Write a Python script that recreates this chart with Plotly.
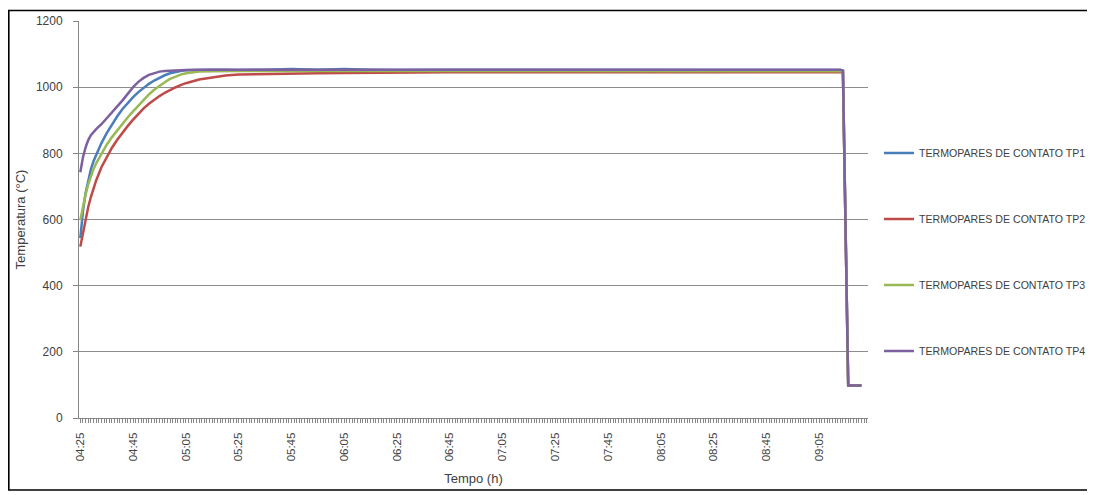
import plotly.graph_objects as go

DAY = "2000-01-01 "

times = ["04:25", "04:26", "04:27", "04:28", "04:29", "04:30", "04:31", "04:33", "04:35", "04:37",
         "04:39", "04:41", "04:43", "04:45", "04:47", "04:49", "04:51", "04:53", "04:55", "04:57",
         "04:59", "05:01", "05:03", "05:05", "05:10", "05:15", "05:20", "05:25", "05:35", "05:45",
         "05:55", "06:05", "06:15", "06:25", "06:45", "07:05", "07:25", "07:45", "08:05", "08:25",
         "08:45", "09:05", "09:13", "09:14", "09:16", "09:21"]

tp1 = [544, 625, 680, 720, 752, 776, 796, 831, 861, 888,
       912, 934, 953, 970, 985, 998, 1010, 1020, 1029, 1036,
       1042, 1046, 1049, 1051, 1053, 1053, 1053, 1052, 1053, 1055,
       1053, 1055, 1053, 1052, 1053, 1053, 1052, 1053, 1053, 1053,
       1053, 1053, 1052, 1050, 98, 98]

tp2 = [518, 562, 603, 638, 668, 695, 718, 758, 790, 817,
       841, 863, 883, 902, 920, 936, 950, 962, 973, 983,
       992, 999, 1006, 1012, 1023, 1030, 1035, 1038, 1040, 1041,
       1042, 1043, 1044, 1044, 1045, 1045, 1045, 1046, 1046, 1046,
       1046, 1046, 1046, 1045, 98, 98]

tp3 = [598, 640, 676, 706, 731, 752, 770, 800, 826, 849,
       870, 890, 909, 927, 944, 962, 978, 992, 1004, 1015,
       1025, 1032, 1038, 1042, 1047, 1048, 1049, 1049, 1049, 1049,
       1049, 1049, 1049, 1049, 1049, 1049, 1049, 1049, 1049, 1049,
       1049, 1049, 1049, 1048, 98, 98]

tp4 = [743, 788, 818, 840, 855, 865, 873, 888, 905, 923,
       942, 960, 980, 1000, 1016, 1028, 1037, 1043, 1047, 1049,
       1050, 1051, 1052, 1052, 1053, 1053, 1053, 1052, 1053, 1054,
       1052, 1053, 1053, 1052, 1053, 1053, 1053, 1053, 1053, 1053,
       1053, 1053, 1053, 1050, 98, 98]

series_names = ["TERMOPARES DE CONTATO TP1", "TERMOPARES DE CONTATO TP2",
                "TERMOPARES DE CONTATO TP3", "TERMOPARES DE CONTATO TP4"]
series_values = [tp1, tp2, tp3, tp4]
colors = ["#4A7EBB", "#BE4B48", "#98B954", "#7D60A0"]

y_ticks = [0, 200, 400, 600, 800, 1000, 1200]
x_range = ["04:24:30", "09:23:30"]

x = [DAY + t for t in times]

fig = go.Figure()
legend_ids = ["legend", "legend2", "legend3", "legend4"]
for name, vals, col, lid in zip(series_names, series_values, colors, legend_ids):
    fig.add_trace(go.Scatter(x=x, y=vals, mode="lines", name=name,
                             line=dict(color=col, width=2.5), legend=lid))

# page body adds an 8px offset; work in window pixel coordinates
OFF = 8
W, H = 1095 - OFF, 495 - OFF
L, R, T, B = 79 - OFF, 868 - OFF, 21 - OFF, 418 - OFF
pw, ph = R - L, B - T


def px_x(p):
    return (p - OFF - L) / pw


def px_y(p):
    return (B - (p - OFF)) / ph


legend_font = dict(family="Liberation Sans, Arial, sans-serif", size=10.6, color="#404040")
leg_y = [153, 219, 285, 351]
legends = {}
for lid, yy in zip(legend_ids, leg_y):
    legends[lid] = dict(x=px_x(879), y=px_y(yy), xanchor="left", yanchor="middle",
                        font=legend_font, bgcolor="rgba(0,0,0,0)", itemwidth=30)

fig.update_layout(
    width=W, height=H,
    margin=dict(l=L, r=W - R, t=T, b=H - B, autoexpand=False),
    paper_bgcolor="white", plot_bgcolor="white",
    font=dict(family="Liberation Sans, Arial, sans-serif", color="#404040"),
    showlegend=True,
    **legends,
)

fig.update_xaxes(
    type="date", automargin=False,
    range=[DAY + x_range[0], DAY + x_range[1]],
    tick0=DAY + "04:25", dtick=20 * 60 * 1000, tickformat="%H:%M",
    tickangle=-90, tickfont=dict(size=11.5, color="#404040"),
    ticks="outside", ticklen=4, tickcolor="#868686",
    ticklabelstandoff=5,
    minor=dict(dtick=60 * 1000, ticks="outside", ticklen=4, tickcolor="#868686", showgrid=False),
    showgrid=False, showline=True, linecolor="#868686", linewidth=1,
    title=dict(text="Tempo (h)", font=dict(size=13, color="#404040"), standoff=13),
    zeroline=False,
)

fig.update_yaxes(
    automargin=False,
    range=[0, 1200], tickvals=y_ticks,
    tickfont=dict(size=12, color="#404040"),
    ticks="outside", ticklen=5, tickcolor="#868686",
    ticklabelstandoff=8,
    showgrid=True, gridcolor="#8C8C8C", gridwidth=1,
    showline=True, linecolor="#868686", linewidth=1,
    zeroline=False,
    title=dict(text="Temperatura (°C)", font=dict(size=13, color="#404040"), standoff=7),
)

# outer black frame
fig.add_shape(type="rect", xref="paper", yref="paper",
              x0=px_x(8.8), x1=px_x(1089.5), y0=px_y(490), y1=px_y(10.5),
              line=dict(color="black", width=1.6), fillcolor="rgba(0,0,0,0)", layer="above")

fig.write_html("out.html")
